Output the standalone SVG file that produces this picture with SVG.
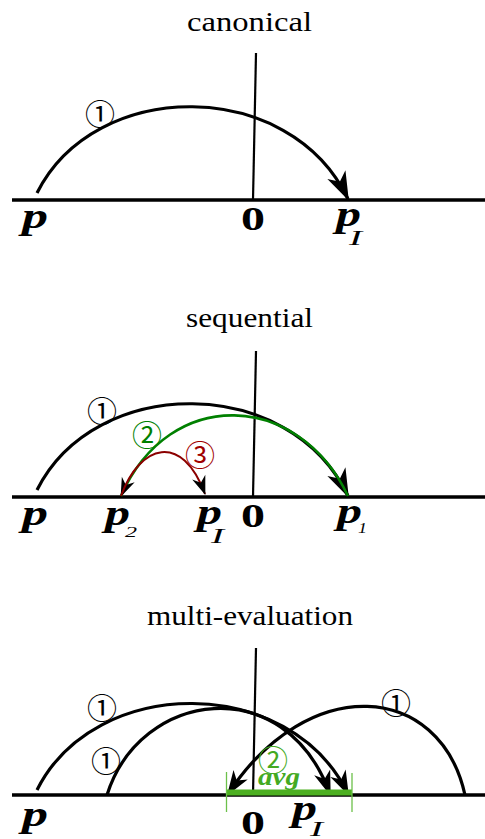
<svg xmlns="http://www.w3.org/2000/svg" width="485" height="839" viewBox="0 0 485 839">
<style>
.title{font-family:"Liberation Serif","Times New Roman",serif;font-size:28px;fill:#000}
.var{font-family:"Liberation Serif","Times New Roman",serif;font-style:italic;font-weight:bold;font-size:36px;fill:#000}
.sub{font-family:"Liberation Serif","Times New Roman",serif;font-style:italic;font-size:22px;fill:#000}
.subs{font-family:"Liberation Serif","Times New Roman",serif;font-style:italic;font-size:15px;fill:#000}
.zero{font-family:"Liberation Serif","Times New Roman",serif;font-weight:bold;font-size:33px;fill:#000}
.circ{font-family:"Noto Sans CJK JP","Noto Sans CJK SC","DejaVu Sans",sans-serif;font-size:30px;text-anchor:middle}
.axis{stroke:#000;stroke-width:3.5;fill:none}
.vert{stroke:#000;stroke-width:2.2;fill:none}
.arc{stroke:#000;stroke-width:3.2;fill:none}
.green{stroke:#008000;stroke-width:2.6;fill:none}
.red{stroke:#8b0000;stroke-width:2;fill:none}
</style>
<defs>
<marker id="ab" viewBox="-32 -12 34 24" refX="-2" refY="0" markerWidth="34" markerHeight="24" markerUnits="userSpaceOnUse" orient="auto">
<path d="M0,0 L-29,-10 L-21,0 L-29,10 Z" fill="#000"/>
</marker>
<marker id="am" viewBox="-28 -10 30 20" refX="-2" refY="0" markerWidth="30" markerHeight="20" markerUnits="userSpaceOnUse" orient="auto">
<path d="M0,0 L-25,-8.5 L-18,0 L-25,8.5 Z" fill="#000"/>
</marker>
<marker id="as" viewBox="-22 -8 24 16" refX="-1" refY="0" markerWidth="24" markerHeight="16" markerUnits="userSpaceOnUse" orient="auto">
<path d="M0,0 L-19,-7 L-13,0 L-19,7 Z" fill="#000"/>
</marker>
</defs>
<rect width="485" height="839" fill="#fff"/>

<!-- Panel 1: canonical -->
<g id="panel-canonical">
<text class="title" x="187" y="31" textLength="125" lengthAdjust="spacingAndGlyphs">canonical</text>
<line class="axis" x1="12" y1="200" x2="485" y2="200"/>
<line class="vert" x1="256" y1="53" x2="253" y2="200"/>
<g id="c-p"><text class="var" x="22" y="228" textLength="26" lengthAdjust="spacingAndGlyphs">p</text></g>
<g id="c-0"><text class="zero" x="241" y="230" textLength="24" lengthAdjust="spacingAndGlyphs">0</text></g>
<g id="c-pI"><text class="var" x="336" y="226" textLength="25" lengthAdjust="spacingAndGlyphs">p</text><text class="sub" x="349" y="245" textLength="13" lengthAdjust="spacingAndGlyphs">I</text></g>
</g>

<!-- Panel 2: sequential -->
<g id="panel-sequential">
<text class="title" x="186" y="327" textLength="127" lengthAdjust="spacingAndGlyphs">sequential</text>
<line class="axis" x1="12" y1="497" x2="485" y2="497"/>
<line class="vert" x1="256" y1="351" x2="253" y2="497"/>
<g id="s-p"><text class="var" x="22" y="525" textLength="26" lengthAdjust="spacingAndGlyphs">p</text></g>
<g id="s-p2"><text class="var" x="105" y="525" textLength="25" lengthAdjust="spacingAndGlyphs">p</text><text class="subs" x="125" y="537" textLength="12" lengthAdjust="spacingAndGlyphs">2</text></g>
<g id="s-pI"><text class="var" x="197" y="524" textLength="25" lengthAdjust="spacingAndGlyphs">p</text><text class="sub" x="211" y="543" textLength="13" lengthAdjust="spacingAndGlyphs">I</text></g>
<g id="s-0"><text class="zero" x="241" y="527" textLength="24" lengthAdjust="spacingAndGlyphs">0</text></g>
<g id="s-p1"><text class="var" x="337" y="523" textLength="25" lengthAdjust="spacingAndGlyphs">p</text><text class="subs" x="358" y="533" textLength="9" lengthAdjust="spacingAndGlyphs">1</text></g>
</g>

<!-- Panel 3: multi-evaluation -->
<g id="panel-multi">
<text class="title" x="147" y="625" textLength="206" lengthAdjust="spacingAndGlyphs">multi-evaluation</text>
<line class="axis" x1="12" y1="795" x2="485" y2="795"/>
<line class="vert" x1="256" y1="648" x2="253" y2="795"/>
<g id="m-p"><text class="var" x="22" y="826" textLength="26" lengthAdjust="spacingAndGlyphs">p</text></g>
<g id="m-0"><text class="zero" x="241" y="834" textLength="24" lengthAdjust="spacingAndGlyphs">0</text></g>
<g id="m-pI"><text class="var" x="292" y="820" textLength="25" lengthAdjust="spacingAndGlyphs">p</text><text class="sub" x="310" y="836" textLength="13" lengthAdjust="spacingAndGlyphs">I</text></g>
</g>

<g id="connectors">
<path class="arc" d="M37,193 C95,77 290,77 348,199" marker-end="url(#ab)"/>
<path class="arc" d="M37,490 C95,374 290,374 348,496" marker-end="url(#ab)"/>
<path class="green" d="M348,496 C298.7,392 170,385 121,496" marker-end="url(#as)"/>
<path class="red" d="M121,496 C140,444 182,432 205,494" marker-end="url(#as)"/>
<path class="arc" d="M37,790 C95,674 290,674 348,794" marker-end="url(#am)"/>
<path class="arc" d="M107,795 C140,690 285,670 330,794" marker-end="url(#am)"/>
<path class="arc" d="M465,795 C440,682 308,672 228,794" marker-end="url(#am)"/>
<line x1="227" y1="792.5" x2="352" y2="792.5" stroke="#4caf20" stroke-width="6"/>
<line x1="226.5" y1="772" x2="226.5" y2="812" stroke="#6cc04a" stroke-width="1.3"/>
<line x1="352" y1="773" x2="352" y2="812" stroke="#6cc04a" stroke-width="1.3"/>
</g>

<g id="labels">
<text class="circ" x="100" y="125" fill="#000">①</text>
<text class="circ" x="102" y="422" fill="#000">①</text>
<text class="circ" x="147" y="446" fill="#008000">②</text>
<text class="circ" x="200" y="466" fill="#a00000">③</text>
<text class="circ" x="102" y="719" fill="#000">①</text>
<text class="circ" x="106" y="772" fill="#000">①</text>
<text class="circ" x="396" y="714" fill="#000">①</text>
<text class="circ" x="273" y="771" fill="#44aa22">②</text>
<text x="258" y="785" font-family="Liberation Serif, Times New Roman, serif" font-style="italic" font-weight="bold" font-size="26" fill="#44aa22" textLength="42" lengthAdjust="spacingAndGlyphs">avg</text>
</g>
</svg>
